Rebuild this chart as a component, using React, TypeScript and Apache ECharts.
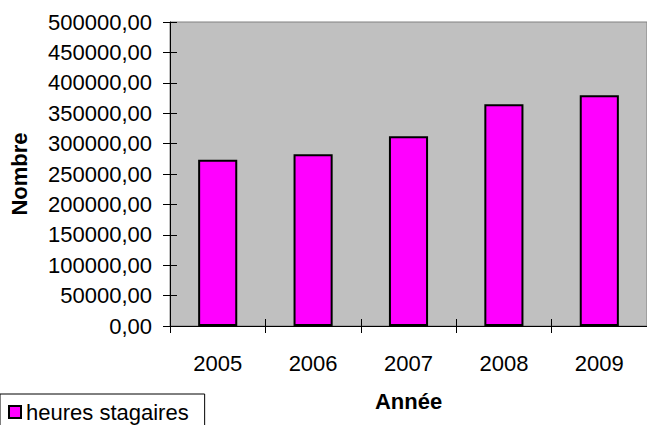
import React, { useEffect, useRef } from "react";
import * as echarts from "echarts";

const categories = ["2005", "2006", "2007", "2008", "2009"];
const heuresStagaires = [273600, 282500, 312200, 364900, 379700];
const seriesName = "heures stagaires";
const xAxisName = "Année";
const yAxisName = "Nombre";

const FONT = "'Liberation Sans', Arial, sans-serif";

export default function App() {
  const ref = useRef<HTMLDivElement>(null);
  useEffect(() => {
    document.body.style.margin = "0";
    if (!ref.current) return;
    const chart = echarts.init(ref.current, null, { renderer: "svg" });
    const yCommon = {
      type: "value" as const,
      min: 0,
      max: 500000,
      interval: 50000,
      splitLine: { show: false },
    };
    const xCommon = {
      type: "category" as const,
      data: categories,
      boundaryGap: true,
    };
    chart.setOption({
      animation: false,
      backgroundColor: "#ffffff",
      textStyle: { fontFamily: FONT },
      grid: {
        show: true,
        left: 166,
        top: 22,
        width: 486,
        bottom: 99,
        backgroundColor: "#c0c0c0",
        borderColor: "#808080",
        borderWidth: 1,
        containLabel: false,
      },
      legend: {
        show: true,
        left: 0,
        top: 394,
        orient: "horizontal",
        padding: [7, 16, 12, 8],
        borderColor: "#000000",
        borderWidth: 1,
        backgroundColor: "#ffffff",
        itemWidth: 12,
        itemHeight: 12,
        textStyle: { fontFamily: FONT, fontSize: 22, color: "#000", lineHeight: 22 },
        data: [{ name: seriesName, icon: "rect" }],
      },
      xAxis: [
        {
          ...xCommon,
          position: "bottom",
          name: xAxisName,
          nameLocation: "middle",
          nameGap: 64,
          nameTextStyle: { fontFamily: FONT, fontSize: 22, fontWeight: "bold", color: "#000" },
          axisLine: { show: true, lineStyle: { color: "#000", width: 1 } },
          axisTick: { show: true, length: 7, lineStyle: { color: "#000" } },
          axisLabel: { fontFamily: FONT, fontSize: 22, color: "#000", margin: 26 },
        },
        {
          ...xCommon,
          position: "bottom",
          axisLine: { show: false },
          axisTick: { show: true, inside: true, length: 7, lineStyle: { color: "#000" } },
          axisLabel: { show: false },
        },
      ],
      yAxis: [
        {
          ...yCommon,
          position: "left",
          name: yAxisName,
          nameLocation: "middle",
          nameGap: 140,
          nameRotate: 90,
          nameTextStyle: { fontFamily: FONT, fontSize: 22, fontWeight: "bold", color: "#000" },
          axisLine: { show: true, lineStyle: { color: "#000", width: 1 } },
          axisTick: { show: true, length: 7, lineStyle: { color: "#000" } },
          axisLabel: {
            fontFamily: FONT,
            fontSize: 22,
            color: "#000",
            margin: 18,
            formatter: (v: number) => v.toFixed(2).replace(".", ","),
          },
        },
        {
          ...yCommon,
          position: "left",
          axisLine: { show: false },
          axisTick: { show: true, inside: true, length: 7, lineStyle: { color: "#000" } },
          axisLabel: { show: false },
        },
      ],
      series: [
        {
          name: seriesName,
          type: "bar",
          xAxisIndex: 0,
          yAxisIndex: 0,
          data: heuresStagaires,
          barWidth: "41%",
          itemStyle: { color: "#ff00ff", borderColor: "#000000", borderWidth: 2 },
        },
      ],
    });
    return () => chart.dispose();
  }, []);
  return <div ref={ref} style={{ width: 647, height: 425 }} />;
}
